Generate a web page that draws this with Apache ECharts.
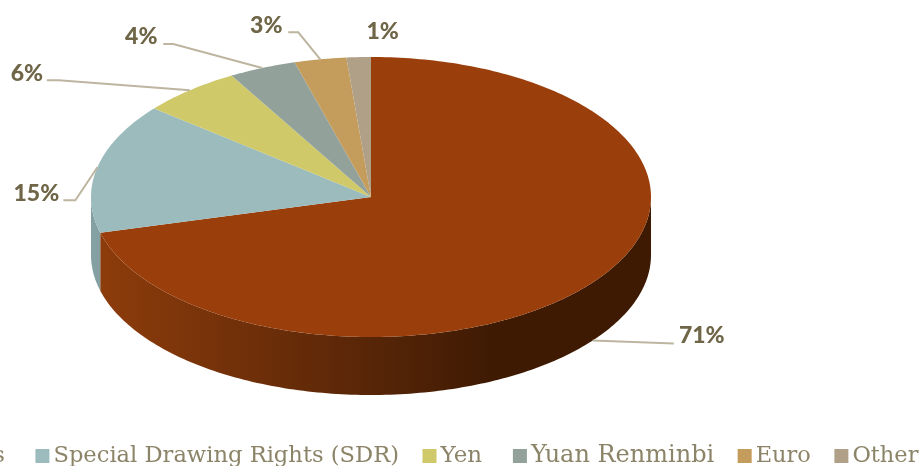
<!DOCTYPE html>
<html>
<head>
<meta charset="utf-8">
<style>html,body{margin:0;padding:0;background:#fff}#main{width:924px;height:466px}</style>
<script src="https://cdn.jsdelivr.net/npm/echarts@6/dist/echarts.min.js"></script>
</head>
<body>
<div id="main"></div>
<script>
// values, labels show them rounded
var names = ['US Dollars', 'Special Drawing Rights (SDR)', 'Yen', 'Yuan Renminbi', 'Euro', 'Other'];
var values = [70.9, 15.0, 5.8, 3.9, 3.0, 1.4];

var topColors = ['#9a3f0b', '#9bbbbd', '#cfc969', '#92a29b', '#c49c5c', '#b0a088'];
var sideColors = [
	{
		type: 'linear', x: 0, y: 0, x2: 1, y2: 0,
		colorStops: [
			{ offset: 0, color: '#8d3c0b' },
			{ offset: 0.52, color: '#542407' },
			{ offset: 0.72, color: '#3e1a03' },
			{ offset: 1, color: '#3e1a03' }
		]
	},
	'#84a0a2', '#b0ab59', '#7c8a84', '#a7854e', '#968874'
];

// offsets from the slice edge point: leader elbow, leader tail, label centre (px)
var labelPlaces = [
	{ elbow: [81, 3], tail: [81, 3], text: [109, -5] },
	{ elbow: [-22, 33], tail: [-34, 33], text: [-61, 26] },
	{ elbow: [-131, -10], tail: [-143, -10], text: [-163, -17] },
	{ elbow: [-89, -24], tail: [-99, -24], text: [-121, -31] },
	{ elbow: [-22, -27], tail: [-32, -27], text: [-54, -34] },
	{ elbow: null, tail: null, text: [24, -26] }
];

// the legend text in the picture is a wider face, sizes keep the widths close
var legendSizes = [22.6, 22.6, 23, 24, 22.5, 22.5];
var legendSuffix = ['\u00a0', '', '\u00a0', '', '', ''];

var depth = 58 / 140; // height of the pie wall, in y axis units
var total = values.reduce(function (a, b) { return a + b; }, 0);

function makeRenderItem(index) {
	return function (params, api) {
		var start = api.value(0) / total * 360;
		var end = start + api.value(1) / total * 360;
		function point(deg, drop) {
			var r = deg * Math.PI / 180;
			return api.coord([Math.sin(r), Math.cos(r) - drop]);
		}
		var children = [];

		// wall, only the front half of the ring shows
		var a0 = Math.max(start, 90), a1 = Math.min(end, 270);
		if (a1 > a0) {
			var wall = [], back = [];
			for (var d = a0; d < a1; d += 1) {
				wall.push(point(d, 0));
				back.unshift(point(d, depth));
			}
			wall.push(point(a1, 0));
			back.unshift(point(a1, depth));
			children.push({
				type: 'polygon',
				shape: { points: wall.concat(back) },
				style: { fill: sideColors[index] }
			});
		}

		// top face
		var face = [api.coord([0, 0])];
		for (var t = start; t < end; t += 1) {
			face.push(point(t, 0));
		}
		face.push(point(end, 0));
		children.push({
			type: 'polygon',
			shape: { points: face },
			style: { fill: topColors[index] }
		});

		// leader line and label
		var mid = (start + end) / 2;
		var onWall = mid > 90 && mid < 270;
		var edge = point(mid, onWall ? depth : 0);
		var place = labelPlaces[index];
		if (place.elbow) {
			children.push({
				type: 'polyline',
				shape: {
					points: [
						edge,
						[edge[0] + place.elbow[0], edge[1] + place.elbow[1]],
						[edge[0] + place.tail[0], edge[1] + place.tail[1]]
					]
				},
				style: { fill: null, stroke: '#bdb5a0', lineWidth: 2 }
			});
		}
		children.push({
			type: 'text',
			style: {
				text: Math.round(api.value(1)) + '%',
				x: edge[0] + place.text[0],
				y: edge[1] + place.text[1],
				align: 'center',
				verticalAlign: 'middle',
				fontFamily: 'Lato',
				fontWeight: 900,
				fontSize: 23,
				fill: '#6f6547'
			}
		});
		return { type: 'group', children: children };
	};
}

var series = [];
var legendData = [];
var running = 0;
for (var i = 0; i < names.length; i++) {
	series.push({
		name: names[i],
		type: 'custom',
		coordinateSystem: 'cartesian2d',
		renderItem: makeRenderItem(i),
		silent: true,
		animation: false,
		data: [[running, values[i]]]
	});
	legendData.push({
		name: names[i],
		textStyle: {
			fontSize: legendSizes[i],
			padding: [0, 0, 0, -1]
		}
	});
	running += values[i];
}

var myChart = echarts.init(document.getElementById('main'));
var option = {
	animation: false,
	color: topColors,
	grid: { left: 91, top: 57, width: 560, height: 338 },
	xAxis: { type: 'value', min: -1, max: 1, show: false },
	yAxis: { type: 'value', min: -1 - depth, max: 1, show: false },
	legend: {
		data: legendData,
		left: -137,
		top: 444,
		width: 1200,
		padding: 0,
		icon: 'rect',
		itemWidth: 14,
		itemHeight: 14,
		itemGap: 23.5,
		formatter: function (name) {
			return name + legendSuffix[names.indexOf(name)];
		},
		textStyle: {
			fontFamily: 'DejaVu Serif',
			color: '#8c8468'
		}
	},
	series: series
};
myChart.setOption(option);
</script>
</body>
</html>
